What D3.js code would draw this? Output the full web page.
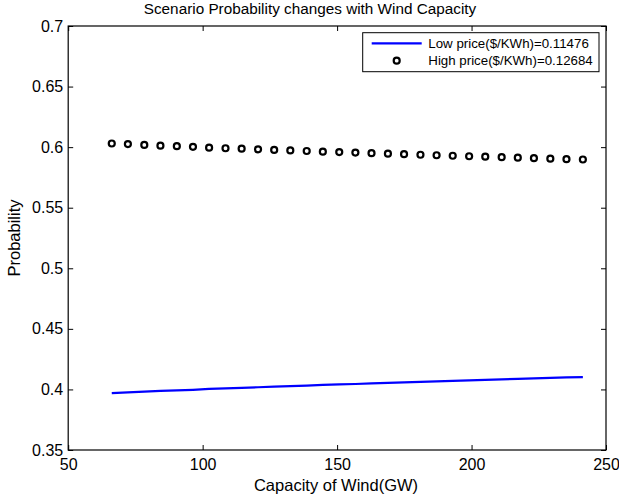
<!DOCTYPE html>
<html><head><meta charset="utf-8">
<script src="https://cdn.jsdelivr.net/npm/d3@7"></script>
<style>
body{margin:0;background:#fff;}
svg{display:block;font-family:"Liberation Sans",Arial,Helvetica,sans-serif;}
</style></head>
<body><svg id="c" width="619" height="499"></svg>
<script>
const capacity = [66.2, 72.2, 78.3, 84.3, 90.4, 96.4, 102.4, 108.5, 114.5, 120.6,
  126.6, 132.6, 138.7, 144.7, 150.8, 156.8, 162.8, 168.9, 174.9, 181.0,
  187.0, 193.0, 199.1, 205.1, 211.2, 217.2, 223.2, 229.3, 235.3, 241.4];
const highProb = [0.6030, 0.6025, 0.6018, 0.6012, 0.6008, 0.6003, 0.5996, 0.5991, 0.5987, 0.5982,
  0.5977, 0.5973, 0.5968, 0.5963, 0.5959, 0.5955, 0.5950, 0.5946, 0.5942, 0.5937,
  0.5933, 0.5929, 0.5925, 0.5921, 0.5917, 0.5913, 0.5909, 0.5905, 0.5901, 0.5898];
const lowProb = [0.3970, 0.3975, 0.3982, 0.3988, 0.3992, 0.3997, 0.4004, 0.4009, 0.4013, 0.4018,
  0.4023, 0.4027, 0.4032, 0.4037, 0.4041, 0.4045, 0.4050, 0.4054, 0.4058, 0.4063,
  0.4067, 0.4071, 0.4075, 0.4079, 0.4083, 0.4087, 0.4091, 0.4095, 0.4099, 0.4102];
const xTicks = [50, 100, 150, 200, 250];
const yTicks = [0.35, 0.4, 0.45, 0.5, 0.55, 0.6, 0.65, 0.7];
const legendLabels = ["Low price($/KWh)=0.11476", "High price($/KWh)=0.12684"];
const titleText = "Scenario Probability changes with Wind Capacity";
const xLabel = "Capacity of Wind(GW)";
const yLabel = "Probability";

const svg = d3.select("#c");
const L = 68.2, R = 606, T = 26, B = 450;
const x = d3.scaleLinear().domain([50, 250]).range([L, R]);
const y = d3.scaleLinear().domain([0.35, 0.7]).range([B, T]);

// axes (ticks inward)
const tl = 5;
svg.append("g").attr("transform", `translate(0,${B})`)
  .call(d3.axisBottom(x).tickValues(xTicks).tickSize(-tl).tickPadding(9).tickFormat(d3.format("d")))
  .call(g => { g.select(".domain").remove(); g.selectAll("text").attr("font-size", 16).attr("fill", "#000"); g.selectAll("line").attr("stroke", "#000"); });
svg.append("g").attr("transform", `translate(0,${T})`)
  .call(d3.axisTop(x).tickValues(xTicks).tickSize(-tl).tickFormat(""))
  .call(g => { g.select(".domain").remove(); g.selectAll("line").attr("stroke", "#000"); });
svg.append("g").attr("transform", `translate(${L},0)`)
  .call(d3.axisLeft(y).tickValues(yTicks).tickSize(-tl).tickPadding(5).tickFormat(d => String(+d.toFixed(2))))
  .call(g => { g.select(".domain").remove(); g.selectAll("text").attr("font-size", 16).attr("fill", "#000"); g.selectAll("line").attr("stroke", "#000"); });
svg.append("g").attr("transform", `translate(${R},0)`)
  .call(d3.axisRight(y).tickValues(yTicks).tickSize(-tl).tickFormat(""))
  .call(g => { g.select(".domain").remove(); g.selectAll("line").attr("stroke", "#000"); });

svg.append("rect").attr("x", L).attr("y", T).attr("width", R - L).attr("height", B - T)
  .attr("fill", "none").attr("stroke", "#000").attr("stroke-width", 1.2);

// low price line
svg.append("path").datum(capacity.map((c, i) => [c, lowProb[i]]))
  .attr("fill", "none").attr("stroke", "#0000ff").attr("stroke-width", 2.2)
  .attr("d", d3.line().x(d => x(d[0])).y(d => y(d[1])));

// high price circles
svg.append("g").selectAll("circle").data(capacity.map((c, i) => [c, highProb[i]]))
  .join("circle").attr("cx", d => x(d[0])).attr("cy", d => y(d[1])).attr("r", 3)
  .attr("fill", "none").attr("stroke", "#000").attr("stroke-width", 2.2);

// title & labels
svg.append("text").attr("x", 310).attr("y", 14).attr("text-anchor", "middle")
  .attr("font-size", 15.3).text(titleText);
svg.append("text").attr("x", 336).attr("y", 490.5).attr("text-anchor", "middle")
  .attr("font-size", 16.5).text(xLabel);
svg.append("text").attr("transform", `translate(20,238) rotate(-90)`).attr("text-anchor", "middle")
  .attr("font-size", 16.5).text(yLabel);

// legend
const lg = svg.append("g");
lg.append("rect").attr("x", 362.7).attr("y", 32.7).attr("width", 236.3).attr("height", 39)
  .attr("fill", "#fff").attr("stroke", "#000").attr("stroke-width", 1);
lg.append("line").attr("x1", 371.7).attr("x2", 421.7).attr("y1", 43.3).attr("y2", 43.3)
  .attr("stroke", "#0000ff").attr("stroke-width", 2.2);
lg.append("circle").attr("cx", 396.7).attr("cy", 60.7).attr("r", 3)
  .attr("fill", "none").attr("stroke", "#000").attr("stroke-width", 2.2);
lg.selectAll("text.lg").data(legendLabels).join("text").attr("class", "lg")
  .attr("x", 428.3).attr("y", (d, i) => 47.5 + i * 17.4).attr("font-size", 13.3).text(d => d);
</script></body></html>
